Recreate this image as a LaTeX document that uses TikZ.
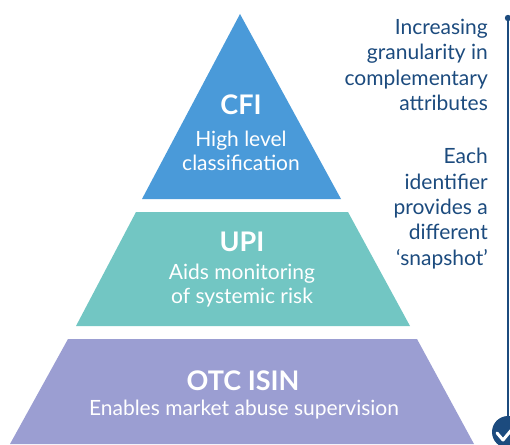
\documentclass[tikz,border=0pt]{standalone}
\usepackage{fontspec}
\setmainfont{Lato}
\definecolor{cfiblue}{HTML}{4A9AD9}
\definecolor{upiteal}{HTML}{72C6C3}
\definecolor{isinpurple}{HTML}{9B9ED2}
\definecolor{navy}{HTML}{1C4B7E}
\tikzset{
  tier/.style={draw=none},
  title/.style={text=white,font=\bfseries\fontsize{27}{30}\selectfont,anchor=center},
  sub/.style={text=white,font=\fontsize{21}{24}\selectfont,align=center,anchor=center},
  side/.style={text=navy,font=\fontsize{21}{25.4}\selectfont,align=right,anchor=north east,inner sep=0pt},
}
\begin{document}
\begin{tikzpicture}[x=1pt,y=-1pt]
\useasboundingbox (0,0) rectangle (510,444);
% tiers
\fill[cfiblue] (240,14) -- (341,199) -- (142,199) -- cycle;
\fill[upiteal] (136,212) -- (348,212) -- (410,326) -- (76,326) -- cycle;
\fill[isinpurple] (68,339) -- (417,339) -- (474,444) -- (10,444) -- cycle;
% texts
\node[title] (cfi) at (241,105) {CFI};
\node[sub] (cfisub) at (241,151) {High level\\classification};
\node[title] (upi) at (242,242) {UPI};
\node[sub] (upisub) at (242,286) {Aids monitoring\\of systemic risk};
\node[title] (isin) at (243,381) {OTC ISIN};
\node[sub] (isinsub) at (244,410) {Enables market abuse supervision};
% side text
\node[side] (gran) at (488,19) {Increasing\\granularity in\\complementary\\attributes};
\node[side] (snap) at (488,148) {Each\\identifier\\provides a\\different\\‘snapshot’};
% axis
\coordinate (top) at (508,18);
\node[circle,fill=navy,minimum size=32pt,inner sep=0pt] (bot) at (508,432) {};
\draw[navy,line width=2.5pt] (top) -- (bot.north);
\fill[navy] (top) circle (3.2);
\draw[white,line width=3pt,line cap=round,line join=round] (497,433) -- (503,440) -- (513,428);
\end{tikzpicture}
\end{document}
